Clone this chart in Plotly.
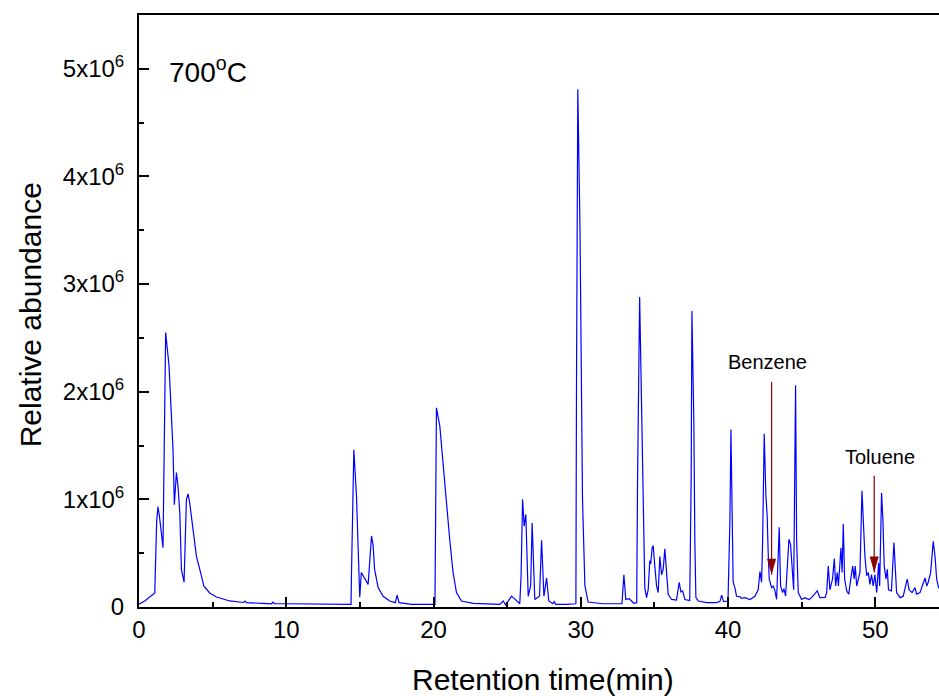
import plotly.graph_objects as go

# Retention time (min) and relative abundance (x10^6)
rt_min = [
    0.00, 0.39, 1.07, 1.13, 1.20, 1.29, 1.40, 1.63, 1.70, 1.81,
    2.04, 2.20, 2.31, 2.40, 2.54, 2.65, 2.77, 2.88, 3.06, 3.22,
    3.33, 3.44, 3.67, 3.90, 4.24, 4.40, 4.80, 5.26, 6.16, 7.10,
    7.20, 7.30, 8.40, 9.00, 9.10, 9.20, 10.0, 12.0, 14.40, 14.43,
    14.59, 14.77, 14.95, 14.99, 15.10, 15.33, 15.56, 15.79, 15.90, 16.00,
    16.24, 16.58, 17.03, 17.40, 17.53, 17.66, 18.50, 20.10, 20.18, 20.20,
    20.43, 20.65, 20.88, 21.10, 21.33, 21.56, 21.90, 22.70, 24.50, 24.73,
    24.90, 25.30, 25.50, 25.86, 25.95, 26.05, 26.16, 26.27, 26.43, 26.60,
    26.70, 26.88, 27.20, 27.34, 27.50, 27.68, 27.83, 28.10, 28.20, 28.30,
    29.00, 29.67, 29.71, 29.80, 29.95, 30.05, 30.12, 30.28, 30.50, 31.50,
    32.80, 32.93, 33.06, 33.29, 33.60, 33.80, 33.86, 34.00, 34.13, 34.24,
    34.35, 34.47, 34.58, 34.69, 34.75, 34.85, 34.92, 35.03, 35.15, 35.26,
    35.37, 35.49, 35.60, 35.71, 35.83, 35.94, 36.17, 36.50, 36.69, 36.80,
    36.92, 37.07, 37.40, 37.50, 37.55, 37.68, 37.75, 37.82, 37.98, 38.55,
    39.20, 39.45, 39.57, 39.70, 40.00, 40.13, 40.20, 40.31, 40.35, 40.47,
    40.58, 40.81, 40.90, 41.15, 41.49, 41.83, 41.94, 42.05, 42.17, 42.28,
    42.35, 42.46, 42.57, 42.66, 42.73, 42.80, 42.96, 43.07, 43.19, 43.30,
    43.48, 43.57, 43.71, 43.80, 43.91, 44.02, 44.14, 44.25, 44.36, 44.46,
    44.59, 44.66, 44.77, 45.00, 45.22, 45.50, 45.68, 46.06, 46.24, 46.60,
    46.70, 46.81, 46.92, 47.10, 47.22, 47.31, 47.42, 47.50, 47.67, 47.75,
    47.83, 47.92, 48.06, 48.20, 48.40, 48.47, 48.57, 48.64, 48.74, 48.96,
    49.10, 49.19, 49.30, 49.42, 49.53, 49.64, 49.75, 49.86, 49.98, 50.10,
    50.23, 50.30, 50.43, 50.52, 50.61, 50.73, 50.82, 50.90, 51.10, 51.27,
    51.36, 51.45, 51.68, 51.90, 52.17, 52.30, 52.50, 52.70, 52.80, 53.04,
    53.38, 53.50, 53.60, 53.76, 53.94, 54.06, 54.17, 54.30, 54.40,
]

abundance_1e6 = [
    0.025, 0.056, 0.13, 0.55, 0.80, 0.93, 0.83, 0.55, 1.50, 2.55,
    2.24, 1.84, 1.46, 0.95, 1.25, 1.12, 0.88, 0.35, 0.23, 1.00,
    1.05, 0.97, 0.69, 0.47, 0.29, 0.195, 0.13, 0.093, 0.056, 0.042,
    0.055, 0.041, 0.033, 0.030, 0.045, 0.030, 0.030, 0.025, 0.025, 0.30,
    1.46, 1.03, 0.29, 0.09, 0.32, 0.26, 0.21, 0.66, 0.57, 0.35,
    0.18, 0.10, 0.056, 0.04, 0.11, 0.04, 0.025, 0.025, 1.00, 1.85,
    1.68, 1.31, 0.97, 0.63, 0.32, 0.134, 0.056, 0.034, 0.025, 0.056,
    0.02, 0.10, 0.078, 0.03, 0.30, 1.00, 0.75, 0.86, 0.10, 0.20,
    0.78, 0.07, 0.10, 0.62, 0.10, 0.27, 0.056, 0.03, 0.05, 0.025,
    0.025, 0.03, 2.00, 4.81, 3.50, 2.00, 1.00, 0.20, 0.046, 0.03,
    0.03, 0.30, 0.07, 0.078, 0.035, 0.04, 1.20, 2.88, 1.80, 0.88,
    0.18, 0.087, 0.16, 0.43, 0.40, 0.55, 0.57, 0.38, 0.195, 0.134,
    0.47, 0.30, 0.35, 0.54, 0.26, 0.118, 0.07, 0.065, 0.23, 0.14,
    0.15, 0.07, 0.06, 1.20, 2.75, 1.73, 0.60, 0.087, 0.056, 0.04,
    0.04, 0.05, 0.11, 0.05, 0.056, 0.80, 1.65, 0.60, 0.23, 0.18,
    0.10, 0.097, 0.08, 0.087, 0.07, 0.10, 0.134, 0.16, 0.33, 0.23,
    0.60, 1.61, 1.05, 0.845, 0.50, 0.26, 0.18, 0.195, 0.15, 0.07,
    0.74, 0.195, 0.134, 0.17, 0.10, 0.32, 0.63, 0.58, 0.32, 0.16,
    2.06, 0.63, 0.134, 0.07, 0.087, 0.07, 0.087, 0.15, 0.087, 0.09,
    0.134, 0.38, 0.16, 0.26, 0.45, 0.195, 0.32, 0.195, 0.55, 0.32,
    0.77, 0.26, 0.15, 0.12, 0.32, 0.38, 0.26, 0.38, 0.195, 0.32,
    1.08, 0.81, 0.47, 0.29, 0.32, 0.21, 0.30, 0.195, 0.30, 0.134,
    0.41, 0.195, 1.06, 0.81, 0.38, 0.26, 0.35, 0.16, 0.15, 0.60,
    0.32, 0.134, 0.087, 0.10, 0.26, 0.16, 0.134, 0.18, 0.12, 0.134,
    0.27, 0.195, 0.23, 0.32, 0.61, 0.47, 0.26, 0.18, 0.17,
]

# Axis ticks
x_tick_vals = [0, 10, 20, 30, 40, 50]
x_minor_vals = [5, 15, 25, 35, 45]
y_tick_vals = [0, 1e6, 2e6, 3e6, 4e6, 5e6]
y_tick_text = ["0", "1x10<sup>6</sup>", "2x10<sup>6</sup>", "3x10<sup>6</sup>",
               "4x10<sup>6</sup>", "5x10<sup>6</sup>"]
y_minor_vals = [0.5e6, 1.5e6, 2.5e6, 3.5e6, 4.5e6]

x_title = "Retention time(min)"
y_title = "Relative abundance"
panel_label = "700<sup>o</sup>C"

# Compound labels and arrows
compounds = ["Benzene", "Toluene"]
label_x = [42.7, 50.3]
label_y = [2.28e6, 1.39e6]
arrow_x = [42.96, 49.93]
arrow_top = [2.09e6, 1.22e6]
arrow_tip = [0.30e6, 0.32e6]

FONT = "Liberation Sans, Arial, sans-serif"
ARROW_COLOR = "#8B0000"

y_vals = [v * 1e6 for v in abundance_1e6]

fig = go.Figure()
fig.add_trace(go.Scatter(x=rt_min, y=y_vals, mode="lines",
                         line=dict(color="#0000FF", width=1.2),
                         showlegend=False, hoverinfo="skip"))

shapes = []
annotations = []
for name, lx, ly, ax, atop, atip in zip(compounds, label_x, label_y,
                                        arrow_x, arrow_top, arrow_tip):
    annotations.append(dict(x=lx, y=ly, xref="x", yref="y", text=name,
                            showarrow=False, font=dict(size=20, color="black", family=FONT),
                            xanchor="center", yanchor="middle"))
    shapes.append(dict(type="line", xref="x", yref="y", x0=ax, x1=ax, y0=atop, y1=atip,
                       line=dict(color=ARROW_COLOR, width=1.2)))
    shapes.append(dict(type="path", xref="x", yref="y", xsizemode="pixel",
                       ysizemode="pixel", xanchor=ax, yanchor=atip,
                       path="M-4.5,16L4.5,16L0,0Z", fillcolor=ARROW_COLOR,
                       line=dict(width=0)))

annotations.append(dict(x=1.88, y=4.99e6, xref="x", yref="y",
                        text=panel_label, showarrow=False,
                        font=dict(size=28, color="black", family=FONT),
                        xanchor="left", yanchor="middle"))
annotations.append(dict(x=0.505, y=-0.122, xref="paper", yref="paper",
                        text=x_title, showarrow=False,
                        font=dict(size=30, color="black", family=FONT),
                        xanchor="center", yanchor="middle"))
annotations.append(dict(x=-0.136, y=0.493, xref="paper", yref="paper",
                        text=y_title, showarrow=False, textangle=-90,
                        font=dict(size=30, color="black", family=FONT),
                        xanchor="center", yanchor="middle"))

fig.update_layout(
    width=939, height=696,
    margin=dict(l=139, r=0, t=15, b=89, autoexpand=False),
    paper_bgcolor="white", plot_bgcolor="white",
    font=dict(family=FONT, color="black", size=24),
    shapes=shapes, annotations=annotations,
    xaxis=dict(range=[0, 54.33], tickmode="array", tickvals=x_tick_vals,
               ticks="inside", ticklen=10, tickwidth=2, tickcolor="black",
               showline=True, linecolor="black", linewidth=2, mirror=True,
               showgrid=False, zeroline=False, automargin=False,
               tickfont=dict(size=24),
               minor=dict(tickvals=x_minor_vals, ticks="inside", ticklen=5,
                          tickwidth=2, tickcolor="black", showgrid=False)),
    yaxis=dict(range=[0, 5.5e6], tickmode="array", tickvals=y_tick_vals,
               ticktext=y_tick_text,
               ticks="inside", ticklen=10, tickwidth=2, tickcolor="black",
               showline=True, linecolor="black", linewidth=2,
               showgrid=False, zeroline=False, automargin=False,
               tickfont=dict(size=24), ticklabelstandoff=8,
               minor=dict(tickvals=y_minor_vals, ticks="inside", ticklen=5,
                          tickwidth=2, tickcolor="black", showgrid=False)),
)

# Remove the default page margin so the 939x696 figure fills the window exactly
page_fix = ("document.documentElement.style.overflow='hidden';"
            "document.body.style.margin='0';document.body.style.overflow='hidden';")

fig.write_html("out.html", post_script=page_fix,
               config={"displayModeBar": False, "staticPlot": True})
